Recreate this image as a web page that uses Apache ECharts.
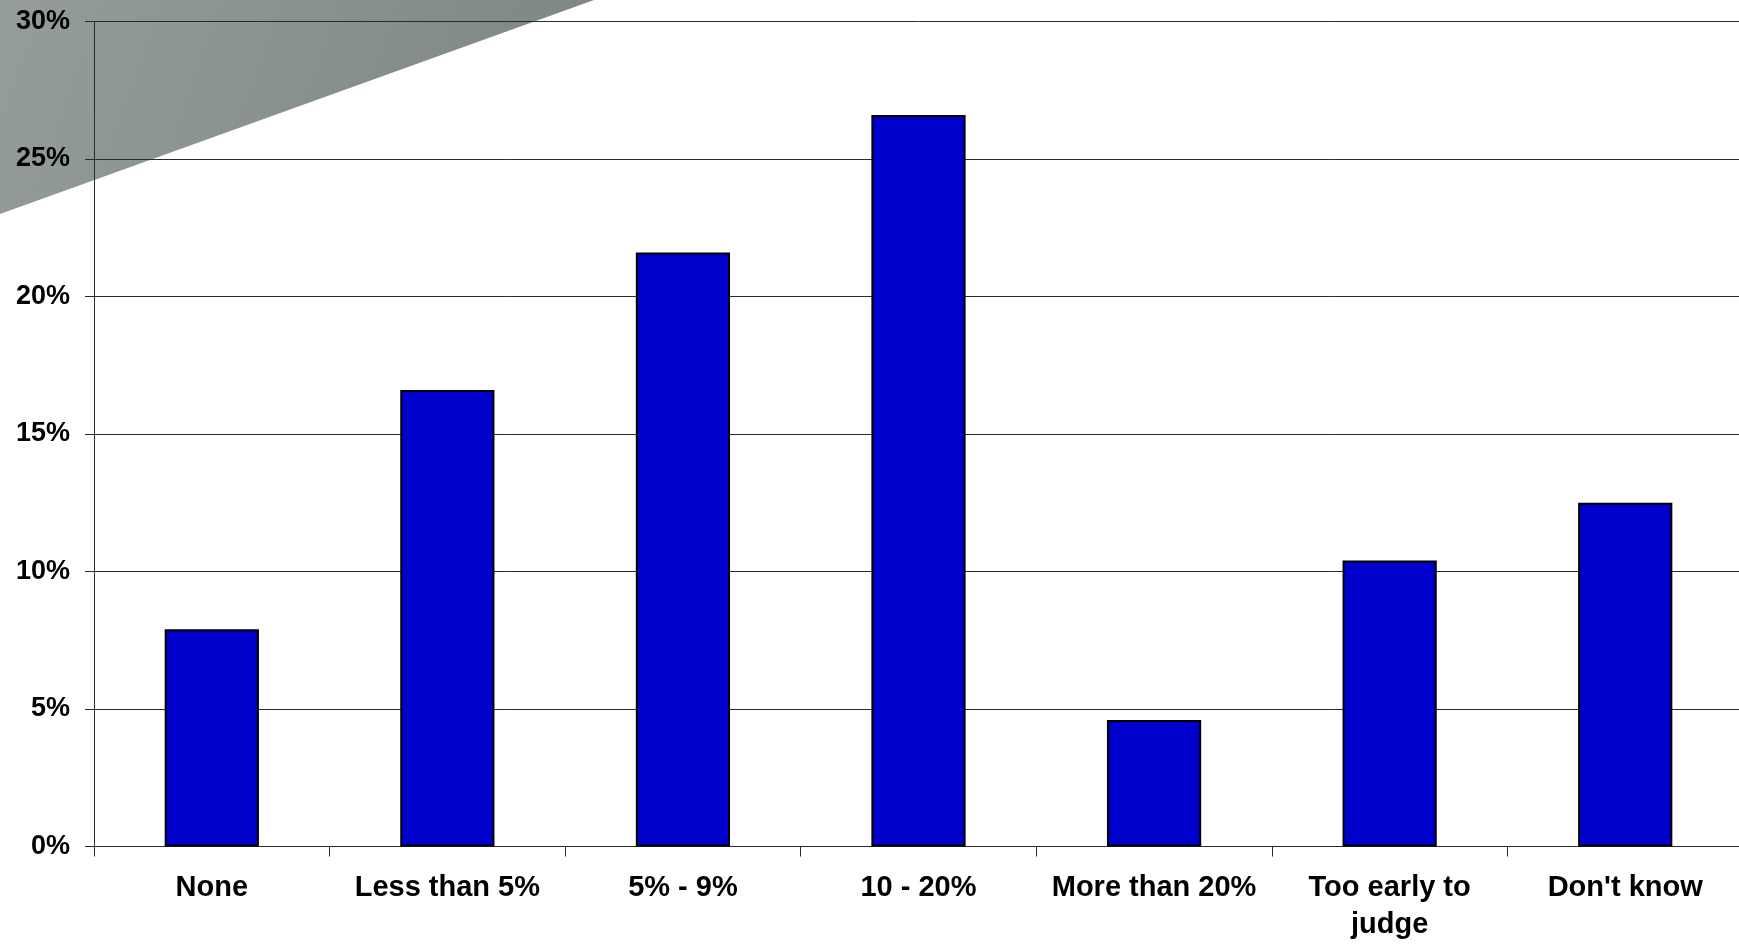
<!DOCTYPE html>
<html>
<head>
<meta charset="utf-8">
<title>Expected change</title>
<script src="https://cdn.jsdelivr.net/npm/echarts@6/dist/echarts.min.js"></script>
<style>
  html, body { margin: 0; padding: 0; background: #ffffff; overflow: hidden; }
  /* the plot runs slightly past the right edge of the page */
  #chart { width: 1760px; height: 944px; }
</style>
</head>
<body>
<div id="chart"></div>
<script>
// Survey responses, share of respondents per answer
const categories = ['None', 'Less than 5%', '5% - 9%', '10 - 20%', 'More than 20%', 'Too early to\njudge', "Don't know"];
const shares = [7.9, 16.6, 21.6, 26.6, 4.6, 10.4, 12.5];

// Value axis range and step (percent)
const yMin = 0;
const yMax = 30;
const yStep = 5;

const chart = echarts.init(document.getElementById('chart'), null, { renderer: 'canvas' });

const labelFont = '"Liberation Sans", Arial, sans-serif';

chart.setOption({
  backgroundColor: '#ffffff',
  animation: false,
  graphic: [
    {
      // grey corner band behind the plot
      type: 'polygon',
      z: -10,
      shape: { points: [[0, 0], [594, 0], [0, 214]] },
      style: {
        fill: {
          type: 'linear', x: 0, y: 0, x2: 1, y2: 1,
          colorStops: [
            { offset: 0, color: '#959c9c' },
            { offset: 1, color: '#7c8484' }
          ]
        }
      },
      silent: true
    }
  ],
  grid: {
    left: 94,
    top: 21.5,
    width: 1649,
    height: 825,
    containLabel: false
  },
  xAxis: {
    type: 'category',
    data: categories,
    boundaryGap: true,
    axisLine: { show: true, lineStyle: { color: '#2a2a2a', width: 1 } },
    axisTick: { show: true, length: 10, alignWithLabel: false, lineStyle: { color: '#2a2a2a' } },
    axisLabel: {
      interval: 0,
      margin: 23,
      color: '#000000',
      fontFamily: labelFont,
      fontWeight: 'bold',
      fontSize: 29,
      lineHeight: 37
    },
    splitLine: { show: false }
  },
  yAxis: {
    type: 'value',
    min: yMin,
    max: yMax,
    interval: yStep,
    axisLine: { show: true, lineStyle: { color: '#2a2a2a', width: 1 } },
    axisTick: { show: true, length: 9, inside: false, lineStyle: { color: '#2a2a2a' } },
    axisLabel: {
      margin: 24,
      color: '#000000',
      fontFamily: labelFont,
      fontWeight: 'bold',
      fontSize: 27,
      formatter: v => v + '%'
    },
    splitLine: { show: true, lineStyle: { color: '#2a2a2a', width: 1 } }
  },
  series: [
    {
      type: 'bar',
      data: shares,
      barCategoryGap: '60%',
      itemStyle: {
        color: '#0000cc',
        borderColor: '#000000',
        borderWidth: 2
      }
    }
  ]
});
</script>
</body>
</html>
